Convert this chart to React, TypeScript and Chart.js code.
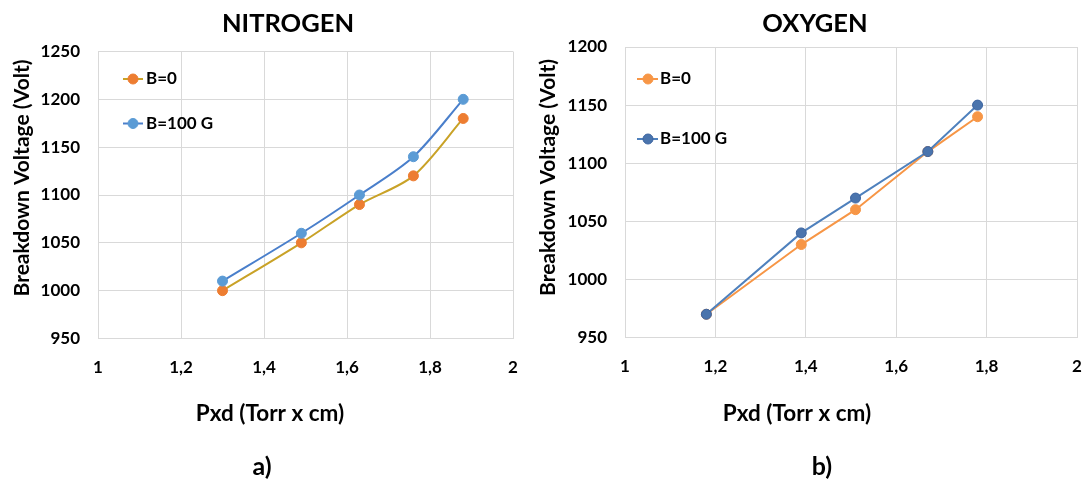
import { useEffect, useRef } from "react";
import { Chart, registerables } from "chart.js";

Chart.register(...registerables);

const FONT = "Lato, 'Noto Sans', 'DejaVu Sans', sans-serif";

// Breakdown voltage vs. pressure x gap distance
const seriesLabels = ["B=0", "B=100 G"];

const nitrogenPxd = [1.3, 1.49, 1.63, 1.76, 1.88];
const nitrogenB0 = [1000, 1050, 1090, 1120, 1180];
const nitrogenB100 = [1010, 1060, 1100, 1140, 1200];

const oxygenPxd = [1.18, 1.39, 1.51, 1.67, 1.78];
const oxygenB0 = [970, 1030, 1060, 1110, 1140];
const oxygenB100 = [970, 1040, 1070, 1110, 1150];

const xTicks = [1, 1.2, 1.4, 1.6, 1.8, 2];
const nitrogenYTicks = [950, 1000, 1050, 1100, 1150, 1200, 1250];
const oxygenYTicks = [950, 1000, 1050, 1100, 1150, 1200];

const xTitle = "Pxd (Torr x cm)";
const yTitle = "Breakdown Voltage (Volt)";

type Caption = { text: string; x: number; y: number; size: number; rotate?: boolean };

// Free-standing bold labels (chart heading, axis titles, panel letter)
const captionsPlugin = {
  id: "captions",
  afterDraw(chart: any, _args: any, opts: any) {
    const ctx = chart.ctx as CanvasRenderingContext2D;
    for (const c of (opts.items || []) as Caption[]) {
      ctx.save();
      ctx.font = `bold ${c.size}px ${FONT}`;
      ctx.fillStyle = "#000";
      ctx.textAlign = "center";
      ctx.textBaseline = "middle";
      ctx.translate(c.x, c.y);
      if (c.rotate) ctx.rotate(-Math.PI / 2);
      ctx.fillText(c.text, 0, 0);
      ctx.restore();
    }
  },
};

// Legend drawn inside the plot area, one row per dataset
const insetLegendPlugin = {
  id: "insetLegend",
  afterDatasetsDraw(chart: any, _args: any, opts: any) {
    const ctx = chart.ctx as CanvasRenderingContext2D;
    chart.data.datasets.forEach((ds: any, i: number) => {
      const y = opts.rows[i];
      ctx.save();
      ctx.strokeStyle = ds.borderColor;
      ctx.lineWidth = ds.borderWidth;
      ctx.beginPath();
      ctx.moveTo(opts.lineFrom, y);
      ctx.lineTo(opts.lineTo, y);
      ctx.stroke();
      ctx.fillStyle = ds.pointBackgroundColor;
      ctx.strokeStyle = ds.pointBorderColor;
      ctx.lineWidth = 1;
      ctx.beginPath();
      ctx.arc(opts.marker, y, ds.pointRadius, 0, Math.PI * 2);
      ctx.fill();
      ctx.stroke();
      ctx.font = `bold ${opts.size}px ${FONT}`;
      ctx.fillStyle = "#000";
      ctx.textAlign = "left";
      ctx.textBaseline = "middle";
      ctx.fillText(ds.label, opts.textX, y);
      ctx.restore();
    });
  },
};

const fmtComma = (v: number) => String(v).replace(".", ",");

type PanelProps = {
  left: number;
  width: number;
  height: number;
  pxd: number[];
  b0: number[];
  b100: number[];
  yTicks: number[];
  smooth: boolean;
  colors: { b0Line: string; b0Point: string; b100Line: string; b100Point: string; b100Border: string };
  area: { top: number; left: number; right: number; bottom: number };
  captions: Caption[];
  legend: { lineFrom: number; lineTo: number; marker: number; textX: number; rows: number[]; size: number };
};

function Panel(p: PanelProps) {
  const ref = useRef<HTMLCanvasElement>(null);

  useEffect(() => {
    if (!ref.current) return;
    const tension = p.smooth ? 0.3 : 0;
    const chart = new Chart(ref.current, {
      type: "line",
      data: {
        datasets: [
          {
            label: seriesLabels[0],
            data: p.pxd.map((x, i) => ({ x, y: p.b0[i] })),
            borderColor: p.colors.b0Line,
            borderWidth: 2,
            pointBackgroundColor: p.colors.b0Point,
            pointBorderColor: p.colors.b0Point,
            pointRadius: 5,
            pointBorderWidth: 1,
            tension,
            order: 1,
          },
          {
            label: seriesLabels[1],
            data: p.pxd.map((x, i) => ({ x, y: p.b100[i] })),
            borderColor: p.colors.b100Line,
            borderWidth: 2,
            pointBackgroundColor: p.colors.b100Point,
            pointBorderColor: p.colors.b100Border,
            pointRadius: 5,
            pointBorderWidth: 1,
            tension,
            order: 0,
          },
        ],
      },
      options: {
        responsive: false,
        animation: false,
        events: [],
        layout: {
          padding: { top: p.area.top, left: 0, right: p.width - p.area.right, bottom: 0 },
        },
        plugins: {
          legend: { display: false },
          tooltip: { enabled: false },
          title: { display: false },
          captions: { items: p.captions },
          insetLegend: p.legend,
        } as any,
        scales: {
          x: {
            type: "linear",
            min: xTicks[0],
            max: xTicks[xTicks.length - 1],
            afterBuildTicks: (s: any) => {
              s.ticks = xTicks.map((value) => ({ value }));
            },
            afterFit: (s: any) => {
              s.height = p.height - p.area.bottom;
            },
            grid: { color: "#D9D9D9", lineWidth: 1, drawTicks: false },
            border: { display: false },
            ticks: {
              padding: 19,
              color: "#000",
              font: { family: FONT, size: 17, weight: "bold" },
              callback: (v: any) => fmtComma(Number(v)),
              maxRotation: 0,
            },
          },
          y: {
            type: "linear",
            min: p.yTicks[0],
            max: p.yTicks[p.yTicks.length - 1],
            afterBuildTicks: (s: any) => {
              s.ticks = p.yTicks.map((value) => ({ value }));
            },
            afterFit: (s: any) => {
              s.width = p.area.left;
            },
            grid: { color: "#D9D9D9", lineWidth: 1, drawTicks: false },
            border: { display: false },
            ticks: {
              padding: 18,
              color: "#000",
              font: { family: FONT, size: 17, weight: "bold" },
              callback: (v: any) => String(v),
            },
          },
        },
      },
      plugins: [captionsPlugin, insetLegendPlugin],
    });
    return () => chart.destroy();
  }, []);

  return (
    <canvas
      ref={ref}
      width={p.width}
      height={p.height}
      style={{ position: "absolute", left: p.left, top: 0, display: "block" }}
    />
  );
}

export default function App() {
  return (
    <div
      style={{
        position: "absolute",
        left: 0,
        top: 0,
        width: 1086,
        height: 481,
        background: "#fff",
        overflow: "hidden",
      }}
    >
      <Panel
        left={0}
        width={540}
        height={481}
        pxd={nitrogenPxd}
        b0={nitrogenB0}
        b100={nitrogenB100}
        yTicks={nitrogenYTicks}
        smooth={true}
        colors={{
          b0Line: "#C9A227",
          b0Point: "#ED7D31",
          b100Line: "#4A7FCB",
          b100Point: "#5B9BD5",
          b100Border: "#5B9BD5",
        }}
        area={{ top: 51.5, left: 98, right: 513, bottom: 338.5 }}
        captions={[
          { text: "NITROGEN", x: 288, y: 24, size: 25.5 },
          { text: yTitle, x: 22.5, y: 178, size: 21, rotate: true },
          { text: xTitle, x: 270, y: 414, size: 22.5 },
          { text: "a)", x: 262, y: 467, size: 25 },
        ]}
        legend={{ lineFrom: 123, lineTo: 143, marker: 133, textX: 146, rows: [79, 123.5], size: 17 }}
      />
      <Panel
        left={530}
        width={580}
        height={481}
        pxd={oxygenPxd}
        b0={oxygenB0}
        b100={oxygenB100}
        yTicks={oxygenYTicks}
        smooth={false}
        colors={{
          b0Line: "#F79646",
          b0Point: "#F79646",
          b100Line: "#4F81BD",
          b100Point: "#4A74AD",
          b100Border: "#3C64A0",
        }}
        area={{ top: 47, left: 95, right: 547, bottom: 337.5 }}
        captions={[
          { text: "OXYGEN", x: 285, y: 24, size: 25.5 },
          { text: yTitle, x: 18.5, y: 177.5, size: 21, rotate: true },
          { text: xTitle, x: 267, y: 414, size: 22.5 },
          { text: "b)", x: 292, y: 467, size: 25 },
        ]}
        legend={{ lineFrom: 107, lineTo: 128, marker: 118, textX: 130, rows: [79, 139], size: 17 }}
      />
    </div>
  );
}
